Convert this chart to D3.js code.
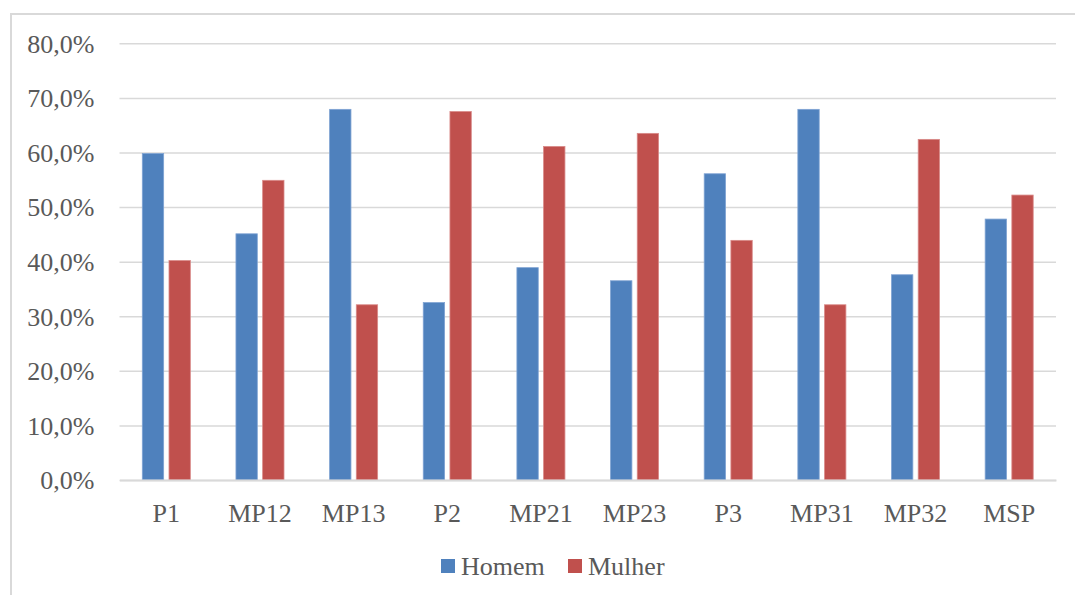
<!DOCTYPE html>
<html>
<head>
<meta charset="utf-8">
<script src="https://cdn.jsdelivr.net/npm/d3@7"></script>
<style>
  html, body { margin: 0; padding: 0; background: #ffffff; }
  svg { display: block; }
</style>
</head>
<body>
<svg id="chart" width="1075" height="595"></svg>
<script>
// Chart data
const categories = ["P1", "MP12", "MP13", "P2", "MP21", "MP23", "P3", "MP31", "MP32", "MSP"];
const seriesNames = ["Homem", "Mulher"];
const homem  = [59.8, 45.1, 67.9, 32.5, 38.9, 36.5, 56.1, 67.9, 37.6, 47.8];
const mulher = [40.2, 54.9, 32.1, 67.5, 61.1, 63.5, 43.9, 32.1, 62.4, 52.2];
const yTicks = [0, 10, 20, 30, 40, 50, 60, 70, 80];

const colors = { Homem: "#4f81bd", Mulher: "#c0504d" };
const strokes = { Homem: "#7fa3d3", Mulher: "#d98a88" };
const textColor = "#595959";
const gridColor = "#d9d9d9";
const fontFamily = '"Liberation Serif"';
const fontSize = "26px";

const svg = d3.select("#chart");

// Outer chart frame (runs off the right and bottom edges)
svg.append("path")
  .attr("d", "M11,600 L11,14 L1080,14")
  .attr("fill", "none")
  .attr("stroke", gridColor)
  .attr("stroke-width", 2);

const plot = { left: 119.5, right: 1056, top: 43.3, bottom: 480 };

const x = d3.scaleBand()
  .domain(categories)
  .range([plot.left, plot.right])
  .paddingInner(0)
  .paddingOuter(0);

const barW = x.bandwidth() * 0.228;
const innerGap = barW * 0.25;
const groupW = barW * 2 + innerGap;

const xSeries = d3.scaleOrdinal()
  .domain(seriesNames)
  .range([0, barW + innerGap]);

const y = d3.scaleLinear()
  .domain([0, 80])
  .range([plot.bottom, plot.top]);

// Horizontal gridlines and percentage labels
const yAxis = d3.axisLeft(y)
  .tickValues(yTicks)
  .tickSize(-(plot.right - plot.left))
  .tickPadding(25)
  .tickFormat(d => d3.format(".1f")(d).replace(".", ",") + "%");

const gy = svg.append("g")
  .attr("transform", `translate(${plot.left},0)`)
  .call(yAxis)
  .attr("font-family", fontFamily)
  .attr("font-size", fontSize);
gy.select(".domain").remove();
gy.selectAll(".tick line")
  .attr("stroke", gridColor)
  .attr("stroke-width", 1.5);
gy.selectAll(".tick text")
  .attr("fill", textColor)
  .attr("dy", "0.34em");

// Bars
const rows = categories.map((c, i) => ({ cat: c, Homem: homem[i], Mulher: mulher[i] }));

const groups = svg.append("g")
  .selectAll("g")
  .data(rows)
  .join("g")
  .attr("transform", d => `translate(${x(d.cat) + (x.bandwidth() - groupW) / 2},0)`);

groups.selectAll("rect")
  .data(d => seriesNames.map(s => ({ s, v: d[s] })))
  .join("rect")
  .attr("x", d => xSeries(d.s))
  .attr("y", d => y(d.v))
  .attr("width", barW)
  .attr("height", d => y(0) - y(d.v))
  .attr("fill", d => colors[d.s])
  .attr("stroke", d => strokes[d.s])
  .attr("stroke-width", 0.8);

// Category axis
const xAxis = d3.axisBottom(x).tickSize(0).tickPadding(24);
const gx = svg.append("g")
  .attr("transform", `translate(0,${plot.bottom})`)
  .call(xAxis)
  .attr("font-family", fontFamily)
  .attr("font-size", fontSize);
gx.select(".domain")
  .attr("stroke", gridColor)
  .attr("stroke-width", 2);
gx.selectAll(".tick text")
  .attr("fill", textColor);

// Legend
const legendItems = [
  { name: "Homem", x: 441 },
  { name: "Mulher", x: 568 }
];
const legend = svg.append("g")
  .attr("font-family", fontFamily)
  .attr("font-size", fontSize);
const li = legend.selectAll("g")
  .data(legendItems)
  .join("g")
  .attr("transform", d => `translate(${d.x},559)`);
li.append("rect")
  .attr("width", 14)
  .attr("height", 14)
  .attr("fill", d => colors[d.name]);
li.append("text")
  .attr("x", 20)
  .attr("y", 16)
  .attr("fill", textColor)
  .text(d => d.name);
</script>
</body>
</html>
